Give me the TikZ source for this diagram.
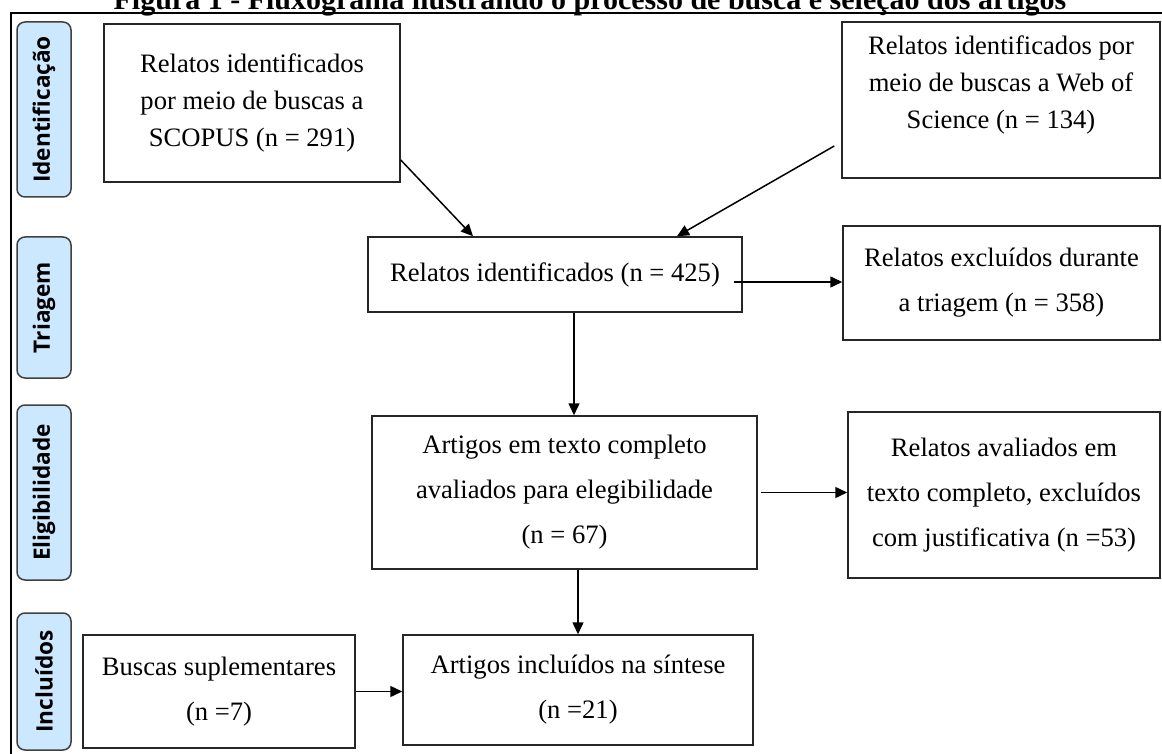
\documentclass[tikz,border=0pt]{standalone}
\usepackage{fontspec}
\setmainfont{Liberation Serif}
\newfontfamily\stagefont{Open Sans}
\usetikzlibrary{arrows.meta}
\definecolor{stageblue}{RGB}{204,232,255}

\begin{document}
\begin{tikzpicture}[
  x=0.5pt, y=-0.5pt,
  rec/.style={rectangle, draw=black!85, line width=0.75pt, align=center, inner sep=2pt, font=\fontsize{13.3}{18.5}\selectfont},
  recwide/.style={rec, font=\fontsize{13.3}{22.5}\selectfont},
  stage/.style={rectangle, draw=black!75, line width=0.75pt, rounded corners=4pt, fill=stageblue, rotate=90, minimum height=27pt, inner sep=0pt, font=\stagefont\bfseries\fontsize{11.3}{13}\selectfont},
  >={Triangle[length=6pt,width=5.5pt]}, line width=0.75pt
]
\useasboundingbox (0,0) rectangle (1162,754);
\node[font=\bfseries\fontsize{15}{17}\selectfont, anchor=base] (title) at (590,9.5) {Figura 1 - Fluxograma ilustrando o processo de busca e seleção dos artigos};
\draw[line width=1pt] (11,13) rectangle (1180,770);

\foreach \name/\y/\len/\txt in {sid/109.5/87.5/Identificação, stri/307.5/70.5/Triagem, seli/492.5/87.5/Eligibilidade, sinc/681.5/68.5/Incluídos}
  \node[stage, minimum width=\len pt] (\name) at (44,\y) {\txt};

\node[rec, minimum width=148pt, minimum height=79pt] (scopus) at (252,103) {Relatos identificados\\por meio de buscas a\\SCOPUS (n = 291)};
\node[rec, minimum width=159pt, minimum height=78pt] (wos) at (1001,100) {Relatos identificados por\\meio de buscas a Web of\\Science (n = 134)\\[-1pt]\mbox{}};
\node[rec, minimum width=187pt, minimum height=37.5pt] (ident) at (555,274.5) {Relatos identificados (n = 425)};
\node[recwide, minimum width=158.5pt, minimum height=57pt] (triexcl) at (1001.5,283) {Relatos excluídos durante\\a triagem (n = 358)};
\node[recwide, minimum width=192.5pt, minimum height=76.5pt] (elig) at (564.5,492.5) {Artigos em texto completo\\avaliados para elegibilidade\\(n = 67)};
\node[recwide, minimum width=156pt, minimum height=83pt] (eligexcl) at (1004,495) {Relatos avaliados em\\texto completo, excluídos\\com justificativa (n =53)};
\node[recwide, minimum width=136pt, minimum height=56.5pt] (supl) at (219,691.5) {Buscas suplementares\\(n =7)};
\node[recwide, minimum width=175pt, minimum height=55pt] (incl) at (578,690) {Artigos incluídos na síntese\\(n =21)};

\coordinate (tri) at ([xshift=-4.5pt,yshift=-3.75pt]ident.east);
\coordinate (down) at ([xshift=9.5pt]ident.south);

\draw[->] ([yshift=-28.5pt]scopus.east) -- ([xshift=-41pt]ident.north);
\draw[->] ([xshift=-3.5pt,yshift=-23pt]wos.west) -- ([xshift=61pt]ident.north);
\draw[->] (tri) -- (tri -| triexcl.west);
\draw[->] (down) -- (down |- elig.north);
\draw[->] ([xshift=1.5pt]elig.east) -- (elig.east -| eligexcl.west);
\draw[->] (elig.south -| incl.north) -- (incl.north);
\draw[->] (supl.east) -- (supl.east -| incl.west);
\end{tikzpicture}
\end{document}
